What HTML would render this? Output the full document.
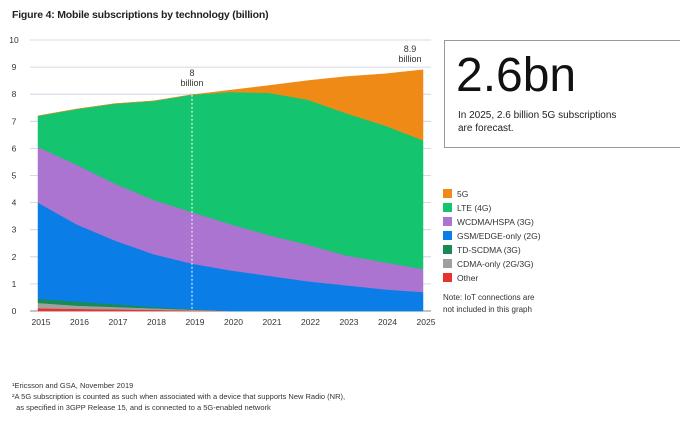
<!DOCTYPE html>
<html><head><meta charset="utf-8"><style>
body{margin:0;background:#fff;font-family:"Liberation Sans",sans-serif;}
#wrap{position:relative;width:700px;height:425px;overflow:hidden;background:#fff}
.t{position:absolute;color:#222;white-space:nowrap}
.lg{position:absolute;left:443px;font-size:8.5px;color:#333}
.lg i{display:inline-block;width:9px;height:9px;vertical-align:-1px;margin-right:5px}
</style></head><body>
<div id="wrap">
<div class="t" style="left:12px;top:9px;font-size:10.5px;font-weight:bold;letter-spacing:-0.2px">Figure 4: Mobile subscriptions by technology (billion)</div>
<svg id="chart" width="700" height="425" style="position:absolute;left:0;top:0"></svg>
<div style="position:absolute;left:444px;top:40px;width:236px;height:108px;border:1px solid #999;border-right:none;box-sizing:border-box"></div>
<div class="t" style="left:456px;top:48px;font-size:48px;color:#111">2.6bn</div>
<div class="t" style="left:458px;top:109px;font-size:10px;line-height:13px;color:#222">In 2025, 2.6 billion 5G subscriptions<br>are forecast.</div>
<div class="lg" style="top:189px"><i style="background:#f08a16"></i>5G</div>
<div class="lg" style="top:203px"><i style="background:#14c46e"></i>LTE (4G)</div>
<div class="lg" style="top:217px"><i style="background:#ab74d0"></i>WCDMA/HSPA (3G)</div>
<div class="lg" style="top:231px"><i style="background:#0a7ee6"></i>GSM/EDGE-only (2G)</div>
<div class="lg" style="top:245px"><i style="background:#178a56"></i>TD-SCDMA (3G)</div>
<div class="lg" style="top:259px"><i style="background:#a0a0a0"></i>CDMA-only (2G/3G)</div>
<div class="lg" style="top:273px"><i style="background:#e8322e"></i>Other</div>
<div class="t" style="left:443px;top:292px;font-size:8px;line-height:12px;color:#333">Note: IoT connections are<br>not included in this graph</div>
<div class="t" style="left:12px;top:380px;font-size:7.5px;line-height:11px;color:#333">¹Ericsson and GSA, November 2019<br>²A 5G subscription is counted as such when associated with a device that supports New Radio (NR),<br>&nbsp; as specified in 3GPP Release 15, and is connected to a 5G-enabled network</div>
</div>
<script>
const years=[2015,2016,2017,2018,2019,2020,2021,2022,2023,2024,2025];
const other=[0.1,0.08,0.06,0.04,0.02,0,0,0,0,0,0];
const cdma=[0.2,0.12,0.09,0.06,0.03,0,0,0,0,0,0];
const tdscdma=[0.15,0.15,0.1,0.05,0.02,0,0,0,0,0,0];
const gsm=[3.55,2.85,2.35,1.95,1.68,1.5,1.3,1.1,0.95,0.8,0.7];
const wcdma=[2.05,2.2,2.1,2.0,1.9,1.7,1.5,1.35,1.1,1.0,0.85];
const lte=[1.15,2.05,2.95,3.65,4.33,4.88,5.25,5.35,5.25,5.05,4.75];
const fiveg=[0,0,0,0,0,0.07,0.27,0.7,1.35,1.9,2.6];
const yTicks=[0,1,2,3,4,5,6,7,8,9,10];
const NS='http://www.w3.org/2000/svg';
const svg=document.getElementById('chart');
const x0=38,x1=423,y0=311,y1=40;
const X=i=>x0+(x1-x0)*i/(years.length-1);
const Y=v=>y0-(y0-y1)*v/10;
function mk(t,a){const e=document.createElementNS(NS,t);for(const k in a)e.setAttribute(k,a[k]);svg.appendChild(e);return e;}
yTicks.forEach(v=>{
 const l=mk('line',{x1:30,x2:431,y1:Y(v),y2:Y(v),stroke:v===0?'#888':'#ccd',"stroke-width":v===0?1:0.8});
 
 
 const t=mk('text',{x:14,y:Y(v)+3,"font-size":8.5,fill:'#333',"text-anchor":'middle',"font-family":'Liberation Sans'});
 t.textContent=v;
 
 
});
const series=[[other,'#e8322e','other'],[cdma,'#a0a0a0','cdma'],[tdscdma,'#178a56','tdscdma'],[gsm,'#0a7ee6','gsm'],[wcdma,'#ab74d0','wcdma'],[lte,'#14c46e','lte'],[fiveg,'#f08a16','5g']];
let base=years.map(()=>0);
series.forEach(([vals,col,name])=>{
 const top=base.map((b,i)=>b+vals[i]);
 let d='M'+years.map((_,i)=>X(i)+','+Y(top[i])).join('L');
 for(let i=years.length-1;i>=0;i--)d+='L'+X(i)+','+Y(base[i]);
 const p=mk('path',{d:d+'Z',fill:col,stroke:col,"stroke-width":0.5});
 
 
 base=top;
});
years.forEach((yr,i)=>{
 const t=mk('text',{x:X(i)+3,y:325,"font-size":8.5,fill:'#333',"text-anchor":'middle',"font-family":'Liberation Sans'});
 t.textContent=yr;
 
 
});
const i19=years.indexOf(2019);
const dl=mk('line',{x1:X(i19),x2:X(i19),y1:Y(base[i19]),y2:y0,stroke:'#fff',"stroke-width":1,"stroke-dasharray":'2,2'});


[['8',76],['billion',86]].forEach(([s,y])=>{const t=mk('text',{x:X(i19),y:y,"font-size":9,fill:'#333',"text-anchor":'middle',"font-family":'Liberation Sans'});t.textContent=s;
 
 });
[['8.9',52],['billion',62]].forEach(([s,y])=>{const t=mk('text',{x:410,y:y,"font-size":9,fill:'#333',"text-anchor":'middle',"font-family":'Liberation Sans'});t.textContent=s;
 
 });
</script>
</body></html>
